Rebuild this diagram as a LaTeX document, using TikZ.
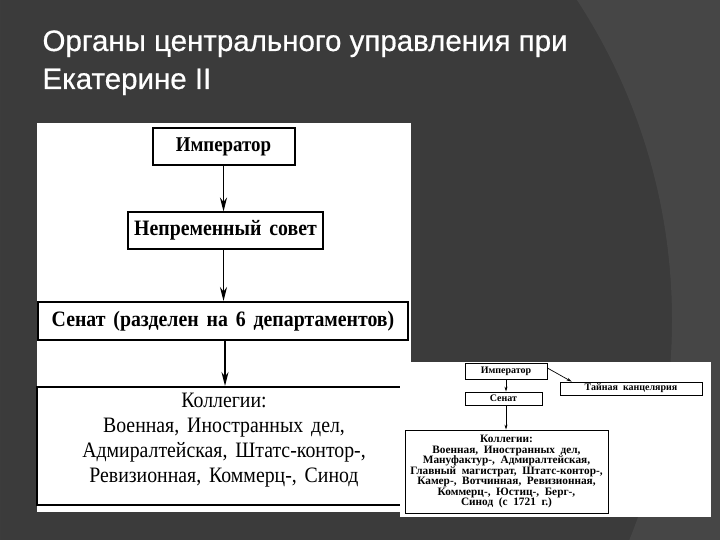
\documentclass[tikz,border=0pt]{standalone}
\usepackage{fontspec}
\setmainfont{Liberation Serif}
\newfontfamily\titlefont{Liberation Sans}[FakeBold=0.6]
\newfontfamily\scanfont{Liberation Serif}[FakeStretch=0.9, WordSpace=1.6]
\newfontfamily\smallscan{Liberation Serif}[WordSpace=2]
\usetikzlibrary{arrows.meta}
\definecolor{slidebg}{HTML}{3B3B3B}
\definecolor{slidelight}{HTML}{464646}

\begin{document}
\begin{tikzpicture}[x=1pt, y=-1pt,
  bigbox/.style={draw, line width=2pt, fill=white, inner sep=0pt,
    font=\scanfont\bfseries\fontsize{22}{25}\selectfont},
  smallbox/.style={draw, line width=0.8pt, fill=white, inner sep=0pt,
    font=\smallscan\bfseries\fontsize{10}{10.5}\selectfont},
  arr/.style={-{Stealth[length=14pt,width=7pt]}, line width=1.5pt},
  sarr/.style={-{Stealth[length=5pt,width=3pt]}, line width=0.7pt},
  title/.style={anchor=base west, text=white,
    font=\titlefont\fontsize{29.5}{34}\selectfont}
]
  \useasboundingbox (0,0) rectangle (720,540);
  \begin{scope}
    \clip (0,0) rectangle (720,540);
    \fill[slidebg] (0,0) rectangle (720,540);
    \fill[slidelight, even odd rule] (0,0) rectangle (720,540) (86,320) circle (586);
  \end{scope}

  \node[title] (t1) at (39,51) {Органы центрального управления при};
  \node[title] (t2) at (39,89) {Екатерине II};

  % large scheme
  \fill[white] (37,123) rectangle (411,512);
  \node[bigbox, minimum width=142, minimum height=37,
    font=\scanfont\bfseries\fontsize{21}{24}\selectfont] (imp) at (223.5,146.5) {Император};
  \node[bigbox, minimum width=195, minimum height=36] (sovet) at (225.5,230.5) {Непременный совет};
  \node[bigbox, minimum width=370, minimum height=38] (senat) at (223,321) {Сенат (разделен на 6 департаментов)};
  \node[bigbox, minimum width=374, minimum height=118, align=center,
    font=\scanfont\fontsize{22}{25}\selectfont] (koll) at (224,446)
    {Коллегии:\\Военная, Иностранных дел,\\Адмиралтейская, Штатс-контор-,\\Ревизионная, Коммерц-, Синод\\[-9pt]};

  \draw[arr] (imp.south) -- (imp.south |- sovet.north);
  \draw[arr] (imp.south |- sovet.south) -- (imp.south |- senat.north);
  \draw[arr] ([xshift=2pt]senat.south) -- ([xshift=2pt]senat.south |- koll.north);

  % small scheme
  \fill[white] (400,362) rectangle (711,517);
  \node[smallbox, minimum width=82, minimum height=16] (simp) at (506,371) {Император};
  \node[smallbox, minimum width=142, minimum height=13] (tayn) at (631,388.5) {Тайная канцелярия};
  \node[smallbox, minimum width=77, minimum height=13] (ssenat) at (503.5,398.5) {Сенат};
  \node[smallbox, minimum width=203, minimum height=83, align=center,
    font=\smallscan\bfseries\fontsize{11.3}{10.5}\selectfont] (skoll) at (506.5,471.5)
    {Коллегии:\\Военная, Иностранных дел,\\Мануфактур-, Адмиралтейская,\\Главный магистрат, Штатс-контор-,\\Камер-, Вотчинная, Ревизионная,\\Коммерц-, Юстиц-, Берг-,\\Синод (с 1721 г.)};

  \draw[sarr] ([yshift=3pt]simp.east) -- ([xshift=12pt]tayn.north west);
  \draw[sarr] (simp.south) -- (simp.south |- ssenat.north);
  \draw[sarr] (simp.south |- ssenat.south) -- (simp.south |- skoll.north);
\end{tikzpicture}
\end{document}
